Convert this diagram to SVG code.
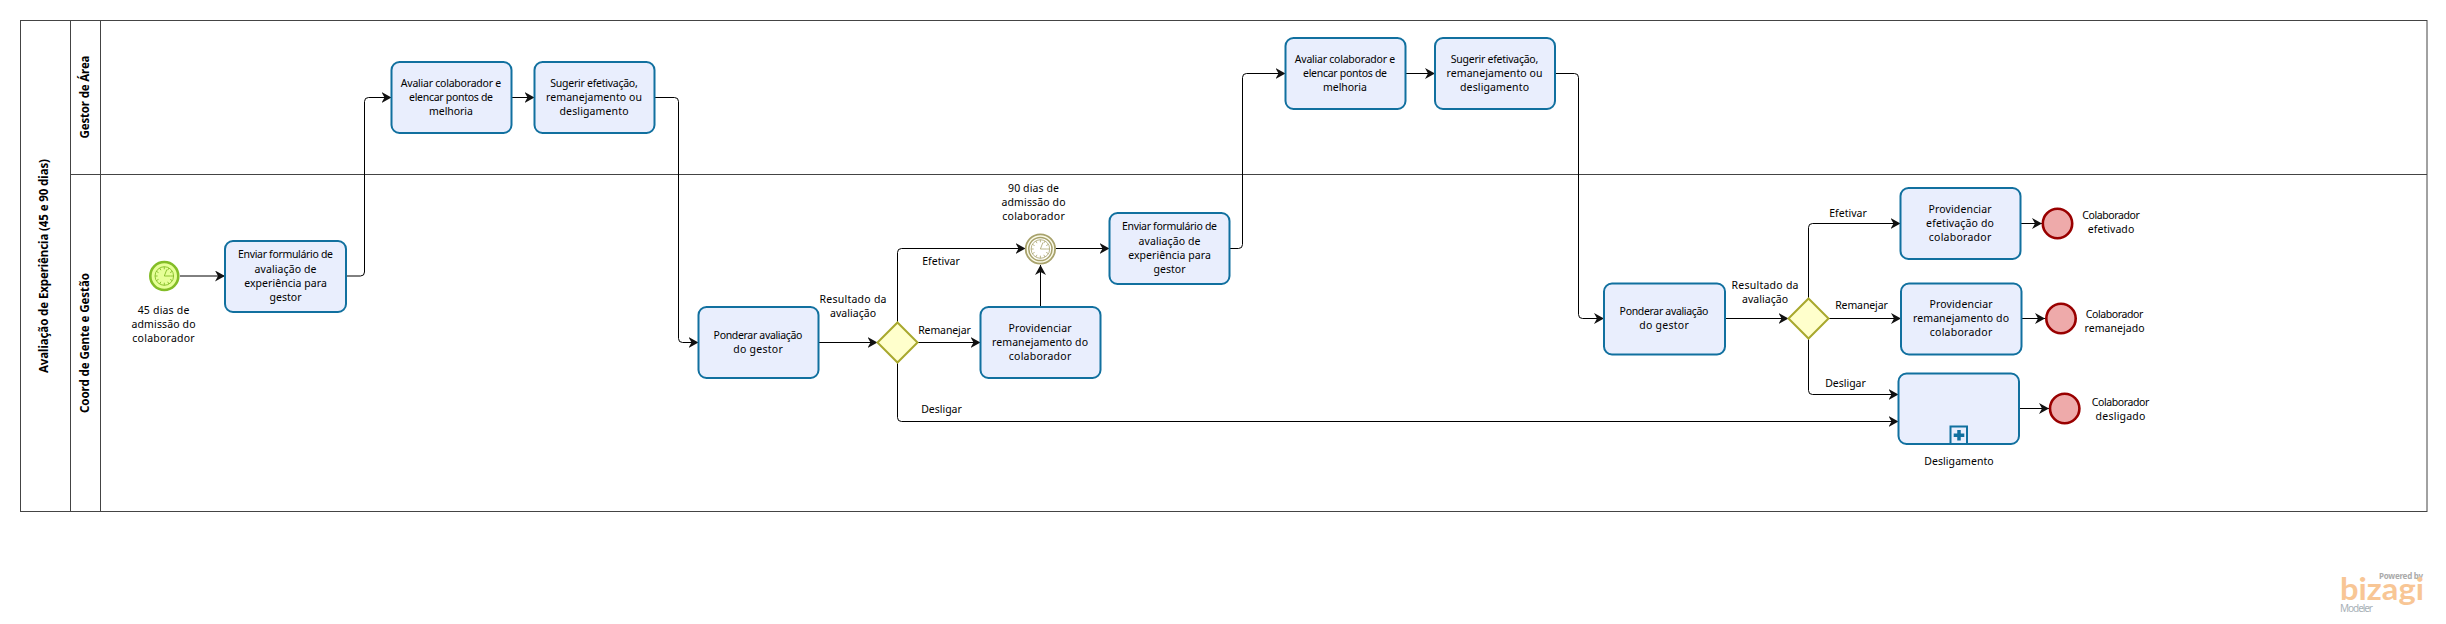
<svg xmlns="http://www.w3.org/2000/svg" width="2446" height="624" viewBox="0 0 2446 624">
<style>
text{font-family:"Noto Sans","DejaVu Sans",sans-serif;font-size:10.5px;fill:#000;text-anchor:middle}
.h{font-weight:bold;font-size:11.5px}
.lane{fill:none;stroke:#444;stroke-width:1}
.task{fill:#e9eefd;stroke:#11709f;stroke-width:2}
.gw{fill:#ffffcc;stroke:#a8a82d;stroke-width:2}
.end{fill:#eeaaaa;stroke:#990000;stroke-width:2.6}
.c{fill:none;stroke:#000;stroke-width:1;marker-end:url(#arr)}
</style>
<defs>
<marker id="arr" markerUnits="userSpaceOnUse" markerWidth="11" markerHeight="12" refX="10" refY="5.5" orient="auto"><path d="M0,0L10,5.5L0,11L3,5.5Z" fill="#111"/></marker>
<g id="clock"><circle r="9.3"/><path d="M0,-9.3V-6.7M4.6,-8L3.4,-5.8M8,-4.6L5.8,-3.4M9.3,0H6.7M8,4.6L5.8,3.4M4.6,8L3.4,5.8M0,9.3V6.7M-4.6,8L-3.4,5.8M-8,4.6L-5.8,3.4M-9.3,0H-6.7M-8,-4.6L-5.8,-3.4M-4.6,-8L-3.4,-5.8M2.5,-6.5L0,0H6.5" fill="none"/></g>
</defs>
<g id="pool">
<rect class="lane" x="20.5" y="20.5" width="2406.5" height="491"/>
<path class="lane" d="M70.5,20.5V511.5M100.5,20.5V511.5M70.5,174.5H2427"/>
<text class="h" transform="translate(48,266) rotate(-90)" textLength="214">Avaliação de Experiência (45 e 90 dias)</text>
<text class="h" transform="translate(88.5,97) rotate(-90)" textLength="83">Gestor de Área</text>
<text class="h" transform="translate(88.5,343) rotate(-90)" textLength="140">Coord de Gente e Gestão</text>
</g>
<g id="connectors">
<path class="c" d="M180,276H225"/>
<path class="c" d="M346,276H360.5Q364.5,276 364.5,272V101.5Q364.5,97.5 368.5,97.5H391.5"/>
<path class="c" d="M511.5,97.5H534.5"/>
<path class="c" d="M654.5,97.5H674.5Q678.5,97.5 678.5,101.5V338.5Q678.5,342.5 682.5,342.5H698.5"/>
<path class="c" d="M819,342.5H877.5"/>
<path class="c" d="M897.5,322.5V252.5Q897.5,248.5 901.5,248.5H1025.5"/>
<path class="c" d="M917.5,342.5H980.5"/>
<path class="c" d="M897.5,362.5V417.5Q897.5,421.5 901.5,421.5H1898.5"/>
<path class="c" d="M1040.5,307V265"/>
<path class="c" d="M1056,248.5H1109.5"/>
<path class="c" d="M1230,248.5H1238.5Q1242.5,248.5 1242.5,244.5V77.5Q1242.5,73.5 1246.5,73.5H1285.5"/>
<path class="c" d="M1405.5,73.5H1435"/>
<path class="c" d="M1555,73.5H1574.5Q1578.5,73.5 1578.5,77.5V314.5Q1578.5,318.5 1582.5,318.5H1604"/>
<path class="c" d="M1725,318.5H1788.5"/>
<path class="c" d="M1808.5,298.5V227.5Q1808.5,223.5 1812.5,223.5H1900.5"/>
<path class="c" d="M1828.5,318.5H1901"/>
<path class="c" d="M1808.5,338.5V390.5Q1808.5,394.5 1812.5,394.5H1898.5"/>
<path class="c" d="M2020.5,223.5H2042"/>
<path class="c" d="M2021.5,318.5H2045"/>
<path class="c" d="M2019,408.5H2049"/>
</g>
<g id="start45">
<circle cx="164.3" cy="276" r="14" fill="#e6ff97" stroke="#83bd27" stroke-width="2.6"/>
<use href="#clock" x="164.3" y="276" fill="#e6ff97" stroke="#83bd27" stroke-width=".9"/>
<text x="163.5" y="313.5" textLength="51.7">45 dias de</text><text x="163.5" y="327.5" textLength="64">admissão do</text><text x="163.5" y="341.5" textLength="62.3">colaborador</text>
</g>
<g id="task-enviar1"><rect class="task" x="225" y="241" width="121" height="71" rx="8"/>
<text x="285.5" y="257.5" textLength="95">Enviar formulário de</text><text x="285.5" y="272.5" textLength="62">avaliação de</text><text x="285.5" y="286.5" textLength="82.7">experiência para</text><text x="285.5" y="300.5" textLength="32">gestor</text></g>
<g id="task-avaliar1"><rect class="task" x="391.5" y="62" width="120" height="71" rx="8"/>
<text x="451" y="86.5" textLength="100.4">Avaliar colaborador e</text><text x="451" y="100.5" textLength="84">elencar pontos de</text><text x="451" y="114.5" textLength="43.8">melhoria</text></g>
<g id="task-sugerir1"><rect class="task" x="534.5" y="62" width="120" height="71" rx="8"/>
<text x="594" y="86.5" textLength="87.5">Sugerir efetivação,</text><text x="594" y="100.5" textLength="96">remanejamento ou</text><text x="594" y="114.5" textLength="69">desligamento</text></g>
<g id="task-ponderar1"><rect class="task" x="698.5" y="307" width="120" height="71" rx="8"/>
<text x="758" y="339" textLength="88.8">Ponderar avaliação</text><text x="758" y="353" textLength="49.5">do gestor</text></g>
<g id="gateway1"><path class="gw" d="M897.5,322.5L917.5,342.5L897.5,362.5L877.5,342.5Z"/>
<text x="853" y="302.5" textLength="67">Resultado da</text><text x="853" y="316.5" textLength="46">avaliação</text></g>
<g id="task-remanejar1"><rect class="task" x="980.5" y="307" width="120" height="71" rx="8"/>
<text x="1040" y="332" textLength="63">Providenciar</text><text x="1040" y="346" textLength="96">remanejamento do</text><text x="1040" y="360" textLength="62.5">colaborador</text></g>
<g id="event90">
<circle cx="1040.4" cy="249" r="14.7" fill="#fbfbe9" stroke="#a8a26c" stroke-width="1.8"/>
<circle cx="1040.4" cy="249" r="11.6" fill="#fff" stroke="#a8a26c" stroke-width="1.5"/>
<use href="#clock" x="1040.4" y="249" fill="#fff" stroke="#a8a26c" stroke-width=".8"/>
<text x="1033.5" y="191.5" textLength="51">90 dias de</text><text x="1033.5" y="205.5" textLength="64">admissão do</text><text x="1033.5" y="219.5" textLength="62.5">colaborador</text></g>
<g id="task-enviar2"><rect class="task" x="1109.5" y="213" width="120" height="71" rx="8"/>
<text x="1169.5" y="229.5" textLength="95">Enviar formulário de</text><text x="1169.5" y="244.5" textLength="62">avaliação de</text><text x="1169.5" y="258.5" textLength="82.7">experiência para</text><text x="1169.5" y="272.5" textLength="32">gestor</text></g>
<g id="task-avaliar2"><rect class="task" x="1285.5" y="38" width="120" height="71" rx="8"/>
<text x="1345" y="62.5" textLength="100.4">Avaliar colaborador e</text><text x="1345" y="76.5" textLength="84">elencar pontos de</text><text x="1345" y="90.5" textLength="43.8">melhoria</text></g>
<g id="task-sugerir2"><rect class="task" x="1435" y="38" width="120" height="71" rx="8"/>
<text x="1494.5" y="62.5" textLength="87.5">Sugerir efetivação,</text><text x="1494.5" y="76.5" textLength="96">remanejamento ou</text><text x="1494.5" y="90.5" textLength="69">desligamento</text></g>
<g id="task-ponderar2"><rect class="task" x="1604" y="283.5" width="121" height="71" rx="8"/>
<text x="1664" y="315" textLength="88.8">Ponderar avaliação</text><text x="1664" y="329" textLength="49.5">do gestor</text></g>
<g id="gateway2"><path class="gw" d="M1808.5,298.5L1828.5,318.5L1808.5,338.5L1788.5,318.5Z"/>
<text x="1765" y="288.5" textLength="67">Resultado da</text><text x="1765" y="302.5" textLength="46">avaliação</text></g>
<g id="task-efetivacao"><rect class="task" x="1900.5" y="188" width="120" height="71" rx="8"/>
<text x="1960" y="212.5" textLength="63">Providenciar</text><text x="1960" y="226.5" textLength="67.8">efetivação do</text><text x="1960" y="240.5" textLength="62.5">colaborador</text></g>
<g id="task-remanejar2"><rect class="task" x="1901" y="283.5" width="120.5" height="71" rx="8"/>
<text x="1961" y="307.5" textLength="63">Providenciar</text><text x="1961" y="321.5" textLength="96">remanejamento do</text><text x="1961" y="335.5" textLength="62.5">colaborador</text></g>
<g id="sub-desligamento"><rect class="task" x="1898.5" y="373.5" width="120.5" height="70.5" rx="8"/>
<rect x="1950.5" y="426.5" width="16.5" height="17.5" fill="#e9eefd" stroke="#11709f" stroke-width="2"/>
<path d="M1959,430V440.5M1953.7,435.3H1964.3" stroke="#11709f" stroke-width="3.5" fill="none"/>
<text x="1959" y="465" textLength="69.4">Desligamento</text></g>
<g id="end-efetivado"><circle class="end" cx="2057.5" cy="223.5" r="14.7"/>
<text x="2111" y="218.5" textLength="57.6">Colaborador</text><text x="2111" y="232.5" textLength="46.5">efetivado</text></g>
<g id="end-remanejado"><circle class="end" cx="2061" cy="318.5" r="14.7"/>
<text x="2114.5" y="317.5" textLength="57.6">Colaborador</text><text x="2114.5" y="331.5" textLength="60">remanejado</text></g>
<g id="end-desligado"><circle class="end" cx="2064.7" cy="408.5" r="14.7"/>
<text x="2120.5" y="405.5" textLength="57.6">Colaborador</text><text x="2120.5" y="419.5" textLength="49.8">desligado</text></g>
<g id="flow-labels">
<text x="941" y="264.5" textLength="37.5">Efetivar</text><text x="944.5" y="333.5" textLength="52.7">Remanejar</text><text x="941.5" y="412.5" textLength="40.6">Desligar</text>
<text x="1848" y="216.5" textLength="37.5">Efetivar</text><text x="1861.5" y="308.5" textLength="52.7">Remanejar</text><text x="1845.5" y="386.5" textLength="40.6">Desligar</text>
</g>
<g id="logo">
<text x="2401" y="579" style="font-size:8px;font-weight:bold;fill:#aaa" textLength="44">Powered by</text>
<text x="2382" y="600" style="font-family:Lato,sans-serif;font-weight:bold;font-size:31px;fill:#f8c695" textLength="84" lengthAdjust="spacingAndGlyphs">bizagi</text>
<text x="2356.5" y="612" style="font-size:10px;fill:#a9b1b8" textLength="33">Modeler</text>
</g>
</svg>
